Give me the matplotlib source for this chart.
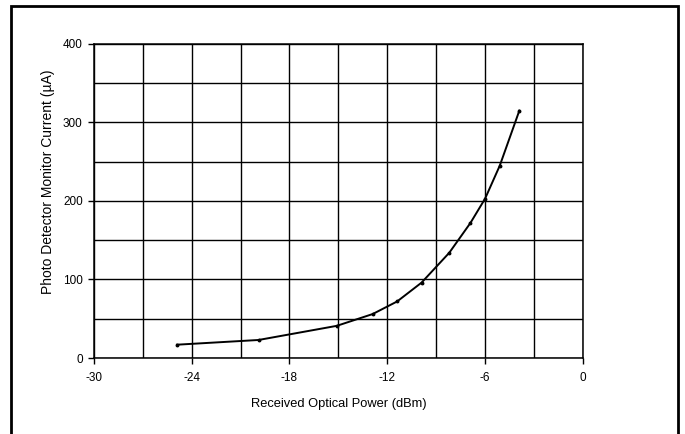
import numpy as np
import matplotlib
matplotlib.use("Agg")
from matplotlib import pyplot as plt
from matplotlib.ticker import MultipleLocator
from matplotlib.patches import Rectangle

power_dbm = [-24.9, -19.9, -15.1, -12.9, -11.4, -9.9, -8.2, -6.9, -6.0, -5.1, -3.9]
current_ua = [17, 23, 41, 56, 72, 96, 134, 172, 203, 245, 315]

x_label = "Received Optical Power (dBm)"
y_label = "Photo Detector Monitor Current (\u00b5A)"

plt.rcParams['font.family'] = ['Liberation Sans', 'DejaVu Sans']
plt.rcParams['axes.unicode_minus'] = False

fig = plt.figure(figsize=(6.85, 4.34), dpi=100)
ax = fig.add_axes([0.137, 0.175, 0.714, 0.724])

# outer frame of the figure box
fig.patches.append(Rectangle((11 / 685, -0.05), 667 / 685, 1.05 - 6 / 434,
                             transform=fig.transFigure, fill=False,
                             edgecolor="black", linewidth=2))

ax.plot(power_dbm, current_ua, color="black", linewidth=1.4,
        marker="o", markersize=1.8, zorder=3)

ax.set_xlim(-30, 0)
ax.set_ylim(0, 400)
ax.xaxis.set_major_locator(MultipleLocator(6))
ax.xaxis.set_minor_locator(MultipleLocator(3))
ax.yaxis.set_major_locator(MultipleLocator(100))
ax.yaxis.set_minor_locator(MultipleLocator(50))
ax.grid(which="both", color="black", linewidth=1.0)
ax.tick_params(which="major", direction="out", length=4, width=1, labelsize=8.5, pad=4)
ax.tick_params(axis="x", which="major", pad=6)
ax.tick_params(which="minor", length=0)
for s in ax.spines.values():
    s.set_linewidth(1.1)

ax.set_xlabel(x_label, fontsize=9.3, labelpad=10)
ax.set_ylabel(y_label, fontsize=10)
ax.yaxis.set_label_coords(-0.08, 0.56)

fig.savefig("out.png", dpi=100)
